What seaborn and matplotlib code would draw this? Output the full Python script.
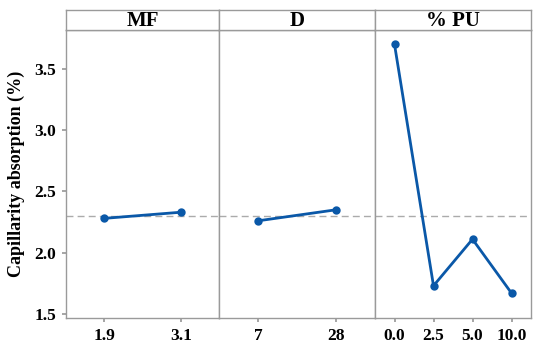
import matplotlib
matplotlib.use("Agg")
import matplotlib.pyplot as plt
import seaborn as sns
import pandas as pd

# Main effects on capillarity absorption
mf_levels = ["1.9", "3.1"]
mf_means = [2.28, 2.33]
d_levels = ["7", "28"]
d_means = [2.26, 2.35]
pu_levels = ["0.0", "2.5", "5.0", "10.0"]
pu_means = [3.70, 1.73, 2.11, 1.67]
factor_names = ["MF", "D", "% PU"]
grand_mean = 2.30
y_ticks = [1.5, 2.0, 2.5, 3.0, 3.5]

sns.set_theme(style="white")
plt.rcParams["font.family"] = ["Liberation Serif", "DejaVu Serif"]
plt.rcParams["font.weight"] = "bold"
plt.rcParams["text.color"] = "black"
plt.rcParams["axes.labelcolor"] = "black"
plt.rcParams["xtick.labelcolor"] = "black"
plt.rcParams["ytick.labelcolor"] = "black"

frames = []
for name, levels, vals in zip(factor_names, [mf_levels, d_levels, pu_levels],
                              [mf_means, d_means, pu_means]):
    frames.append(pd.DataFrame({"factor": name, "level": levels, "value": vals}))
data = pd.concat(frames, ignore_index=True)

W, H = 535, 344
fig = plt.figure(figsize=(W / 100, H / 100), dpi=100)

edges = [66, 219, 375, 531]
top_px, bottom_px, strip_top = 30, 318, 10
frame_color = "#9a9a9a"
line_color = "#0a58a8"

axes = []
for i, name in enumerate(factor_names):
    x0, x1 = edges[i], edges[i + 1]
    ax = fig.add_axes([x0 / W, 1 - bottom_px / H, (x1 - x0) / W, (bottom_px - top_px) / H],
                      sharey=axes[0] if axes else None)
    sub = data[data["factor"] == name]
    levels = list(sub["level"])
    ax.axhline(grand_mean, color="#ababab", lw=1.0, ls=(0, (5, 3)), zorder=1)
    sns.pointplot(data=sub, x="level", y="value", order=levels, ax=ax,
                  color=line_color, markers="o", markersize=4.5, linewidth=2.0,
                  errorbar=None)
    ax.set_xlim(-0.5, len(levels) - 0.5)
    ax.set_ylim(1.467, 3.817)
    ax.set_xlabel("")
    ax.set_ylabel("")
    for s in ax.spines.values():
        s.set_color(frame_color)
        s.set_linewidth(1.0)
    ax.tick_params(axis="x", bottom=True, length=3, color=frame_color,
                   labelsize=12.5, pad=4, labelcolor="black")
    for lab in ax.get_xticklabels():
        lab.set_fontweight("bold")
    if i == 0:
        ax.set_yticks(y_ticks)
        ax.set_yticklabels([f"{v:.1f}" for v in y_ticks], fontweight="bold")
        ax.tick_params(axis="y", left=True, length=3, color=frame_color,
                       labelsize=12.5, pad=4, labelcolor="black")
        ax.set_ylabel("Capillarity absorption (%)", fontsize=13, fontweight="bold",
                      labelpad=7, color="black")
    else:
        ax.tick_params(axis="y", left=False, labelleft=False)
    axes.append(ax)

    strip = fig.add_axes([x0 / W, 1 - top_px / H, (x1 - x0) / W, (top_px - strip_top) / H])
    strip.set_xticks([])
    strip.set_yticks([])
    strip.set_facecolor("white")
    for s in strip.spines.values():
        s.set_color(frame_color)
        s.set_linewidth(1.0)
    strip.text(0.5, 0.45, name, ha="center", va="center", fontsize=15,
               fontweight="bold", color="black", transform=strip.transAxes)

fig.savefig("out.png", dpi=100)
